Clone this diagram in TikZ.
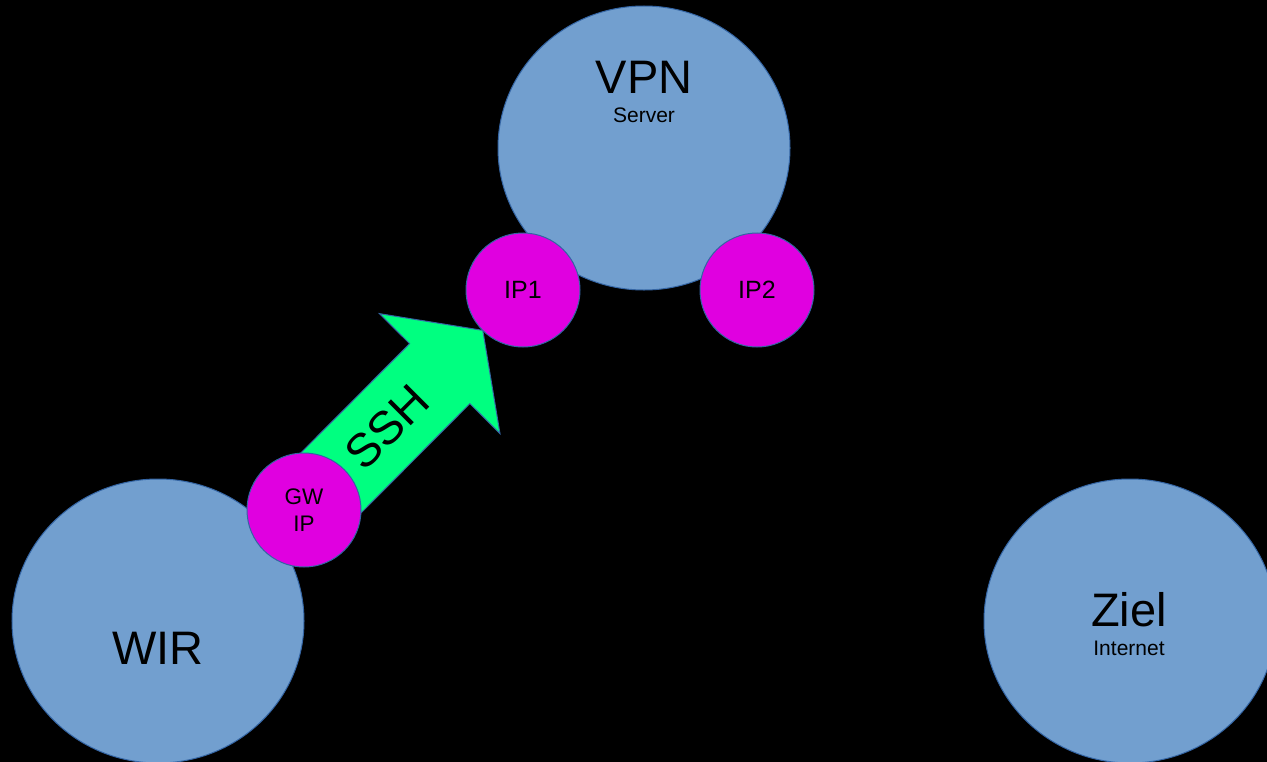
\documentclass[tikz,border=0pt]{standalone}
\usepackage{fontspec}
\setmainfont{Liberation Sans}
\usetikzlibrary{shapes.geometric,calc}
\definecolor{cloudblue}{HTML}{729FCF}
\definecolor{rimblue}{HTML}{3465A4}
\definecolor{portpink}{HTML}{E000E0}
\definecolor{tunnelgreen}{HTML}{00FF80}
\pgfdeclarelayer{backdrop}
\pgfdeclarelayer{behind}
\pgfsetlayers{backdrop,behind,main}
\begin{document}
\begin{tikzpicture}[x=1bp,y=-1bp,
  host/.style={ellipse, draw=rimblue, line width=1bp, fill=cloudblue,
    minimum width=292bp, minimum height=284bp, inner sep=0pt},
  port/.style={circle, draw=rimblue, line width=1bp, fill=portpink,
    minimum size=114bp, inner sep=0pt, text=black,
    font=\fontsize{25bp}{30bp}\selectfont},
  bigtxt/.style={anchor=base, inner sep=0pt, font=\fontsize{47bp}{56bp}\selectfont},
  smalltxt/.style={anchor=base, inner sep=0pt, font=\fontsize{21bp}{25bp}\selectfont},
  tunnel/.style={fill=tunnelgreen, draw=rimblue, line width=1bp, line join=miter},
]
% black page
\begin{pgfonlayer}{backdrop}
  \fill[black] (0,0) rectangle (1267,762);
\end{pgfonlayer}
\useasboundingbox (0,0) rectangle (1267,762);
\clip (0,0) rectangle (1267,762);

% hosts
\node[host] (vpn)  at (644,148)  {};
\node[host] (wir)  at (158,621)  {};
\node[host] (ziel) at (1130,621) {};

\node[bigtxt]   (vpnname)  at (644,94)   {VPN};
\node[smalltxt] (vpnrole)  at (644,123)  {Server};
\node[bigtxt]   (wirname)  at (158,664)  {WIR};
\node[bigtxt]   (zielname) at (1129,626) {Ziel};
\node[smalltxt] (zielrole) at (1129,655) {Internet};

% interfaces
\node[port] (ip1) at (523,290) {IP1};
\node[port] (ip2) at (757,290) {IP2};
\node[port, align=center, font=\fontsize{22.5bp}{27bp}\selectfont] (gw) at (304,510) {GW\\IP};

% SSH tunnel arrow from GW IP to IP1
\coordinate (tip) at ($(ip1.center)!57bp!(gw.center)$);
\coordinate (headbase) at ($(tip)!61bp!(gw.center)$);
\begin{pgfonlayer}{behind}
  \filldraw[tunnel]
    ($(gw.center)!42.5bp!90:(tip)$) --
    ($(headbase)!42.5bp!90:(tip)$) --
    ($(headbase)!85bp!90:(tip)$) --
    (tip) --
    ($(headbase)!85bp!-90:(tip)$) --
    ($(headbase)!42.5bp!-90:(tip)$) --
    ($(gw.center)!42.5bp!-90:(tip)$) -- cycle;
\end{pgfonlayer}
\node[rotate=45, inner sep=0pt, font=\fontsize{47bp}{56bp}\selectfont] (ssh)
  at ($(gw.center)!0.378!(ip1.center)$) {SSH};
\end{tikzpicture}
\end{document}
